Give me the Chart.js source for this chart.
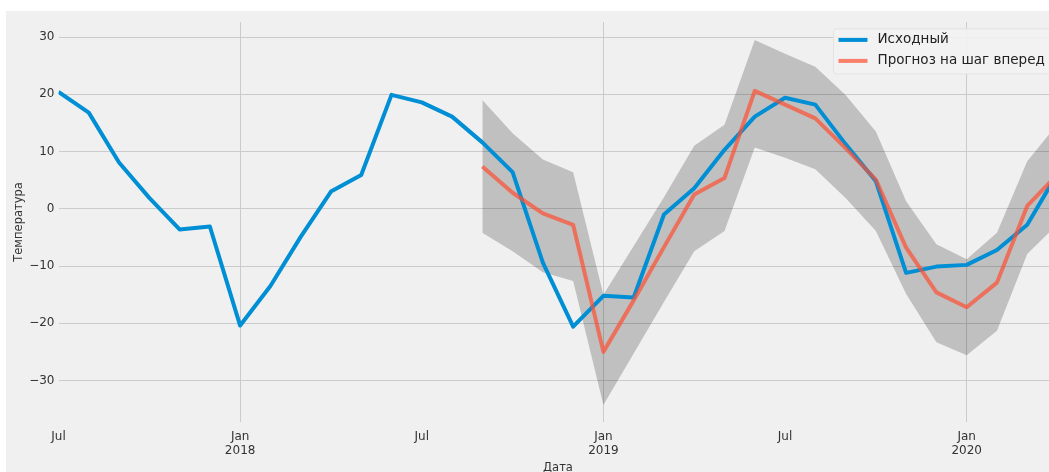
<!DOCTYPE html>
<html lang="ru">
<head>
  <meta charset="UTF-8">
  <title>Температура: исходный ряд и прогноз</title>
  <script src="https://cdn.jsdelivr.net/npm/chart.js"></script>
  <style>
    html, body {
      margin: 0;
      padding: 0;
      background: #ffffff;
      overflow: hidden;
    }
    #wrap {
      position: absolute;
      left: 6px;
      top: 11px;
      width: 1062px;
      height: 464px;
      background: #f0f0f0;
    }
  </style>
</head>
<body>

<div id="wrap">
  <canvas id="tempChart"></canvas>
</div>

<script>
// месяцы считаются от июля 2017 (0) до апреля 2020 (33)
const forecastStart = 14; // сентябрь 2018

const observed = [
  20.4, 16.8, 8.1, 1.9, -3.6, -3.1,
  -20.4, -13.5, -4.9, 3.0, 5.9, 19.9,
  18.6, 16.1, 11.6, 6.4, -9.4, -20.6,
  -15.2, -15.5, -1.0, 3.6, 10.3, 16.1,
  19.4, 18.2, 11.3, 4.8, -11.2, -10.1,
  -9.8, -7.2, -2.8, 6.2
];

const forecast = [
  7.4, 2.8, -0.8, -2.8,
  -25.0, -16.0, -6.7, 2.5, 5.4, 20.6,
  18.2, 15.8, 10.6, 5.1, -6.8, -14.6,
  -17.2, -12.9, 0.5, 6.0
];

const lowerCI = [
  -4.2, -7.4, -11.1, -12.6,
  -34.3, -25.3, -16.3, -7.4, -3.9, 10.7,
  8.9, 6.9, 1.9, -3.9, -14.9, -23.3,
  -25.6, -21.3, -7.9, -2.7
];

const upperCI = [
  19.0, 13.2, 8.6, 6.4,
  -15.0, -6.5, 2.0, 11.0, 14.7, 29.5,
  27.1, 24.8, 19.9, 13.5, 1.3, -6.2,
  -8.8, -4.2, 8.3, 14.8
];

const xTickMonths = [0, 6, 12, 18, 24, 30];
const xTickLabels = [['Jul'], ['Jan', '2018'], ['Jul'], ['Jan', '2019'], ['Jul'], ['Jan', '2020']];
const yTicks = [-30, -20, -10, 0, 10, 20, 30];

const seriesNames = ['Исходный', 'Прогноз на шаг вперед'];
const blue = '#008fd5';
const red = 'rgba(252, 79, 48, 0.7)';

const toPoints = (arr, start) => arr.map((v, i) => ({ x: i + start, y: v }));

Chart.defaults.font.family = "'DejaVu Sans', sans-serif";
Chart.defaults.color = '#333';

// легенда внутри области графика, в правом верхнем углу
const innerLegend = {
  id: 'innerLegend',
  afterDatasetsDraw(chart) {
    const { ctx, chartArea } = chart;
    const items = [
      { text: seriesNames[0], color: blue },
      { text: seriesNames[1], color: red }
    ];
    ctx.save();
    ctx.font = "13.5px 'DejaVu Sans'";
    const textW = Math.max(...items.map(it => ctx.measureText(it.text).width));
    const w = 5 + 29 + 10 + textW + 6;
    const h = 45;
    const x = chartArea.right - 6.7 - w;
    const y = chartArea.top + 6.7;
    ctx.beginPath();
    ctx.roundRect(x, y, w, h, 3);
    ctx.fillStyle = 'rgba(242, 242, 242, 0.9)';
    ctx.fill();
    ctx.strokeStyle = '#e2e2e2';
    ctx.lineWidth = 1;
    ctx.stroke();
    items.forEach((it, i) => {
      const cy = y + 11 + i * 21;
      ctx.beginPath();
      ctx.moveTo(x + 5, cy);
      ctx.lineTo(x + 34, cy);
      ctx.strokeStyle = it.color;
      ctx.lineWidth = 4;
      ctx.stroke();
      ctx.fillStyle = '#222';
      ctx.textBaseline = 'middle';
      ctx.fillText(it.text, x + 44, cy);
    });
    ctx.restore();
  }
};

new Chart(document.getElementById('tempChart'), {
  type: 'line',
  data: {
    datasets: [
      {
        label: seriesNames[0],
        data: toPoints(observed, 0),
        borderColor: blue,
        borderWidth: 4,
        pointRadius: 0,
        tension: 0,
        borderJoinStyle: 'round',
        order: 1
      },
      {
        label: seriesNames[1],
        data: toPoints(forecast, forecastStart),
        borderColor: red,
        borderWidth: 4,
        pointRadius: 0,
        tension: 0,
        borderJoinStyle: 'round',
        order: 0
      },
      {
        label: 'lower',
        data: toPoints(lowerCI, forecastStart),
        borderWidth: 0,
        pointRadius: 0,
        tension: 0,
        fill: false,
        order: 3
      },
      {
        label: 'upper',
        data: toPoints(upperCI, forecastStart),
        borderWidth: 0,
        pointRadius: 0,
        tension: 0,
        fill: '-1',
        backgroundColor: 'rgba(0, 0, 0, 0.2)',
        order: 2
      }
    ]
  },
  options: {
    responsive: true,
    maintainAspectRatio: false,
    animation: false,
    layout: { padding: { top: 9, right: 10.5, left: 0, bottom: 0 } },
    plugins: {
      legend: { display: false },
      tooltip: { enabled: false }
    },
    scales: {
      x: {
        type: 'linear',
        min: 0,
        max: 33,
        border: { display: false },
        grid: {
          drawTicks: false,
          color: ctx => (ctx.tick && ctx.tick.value % 12 === 6) ? '#cbcbcb' : 'rgba(0,0,0,0)',
          lineWidth: 1
        },
        afterBuildTicks: s => { s.ticks = xTickMonths.map(v => ({ value: v })); },
        afterFit: s => { s.height = 53.3; },
        ticks: {
          autoSkip: false,
          maxRotation: 0,
          padding: 8,
          font: { size: 12 },
          callback: v => xTickLabels[xTickMonths.indexOf(v)]
        },
        title: {
          display: true,
          text: 'Дата',
          font: { size: 11.5 },
          padding: { top: 0, bottom: 0 }
        }
      },
      y: {
        min: -37.2,
        max: 32.6,
        border: { display: false },
        grid: { drawTicks: false, color: '#cbcbcb', lineWidth: 1 },
        afterBuildTicks: s => { s.ticks = yTicks.map(v => ({ value: v })); },
        afterFit: s => { s.width = 52.5; },
        ticks: {
          padding: 4,
          font: { size: 12 },
          callback: v => v < 0 ? '\u2212' + Math.abs(v) : String(v)
        },
        title: {
          display: true,
          text: 'Температура',
          font: { size: 11.5 },
          padding: { top: 6, bottom: 0 }
        }
      }
    }
  },
  plugins: [innerLegend]
});
</script>
</body>
</html>
